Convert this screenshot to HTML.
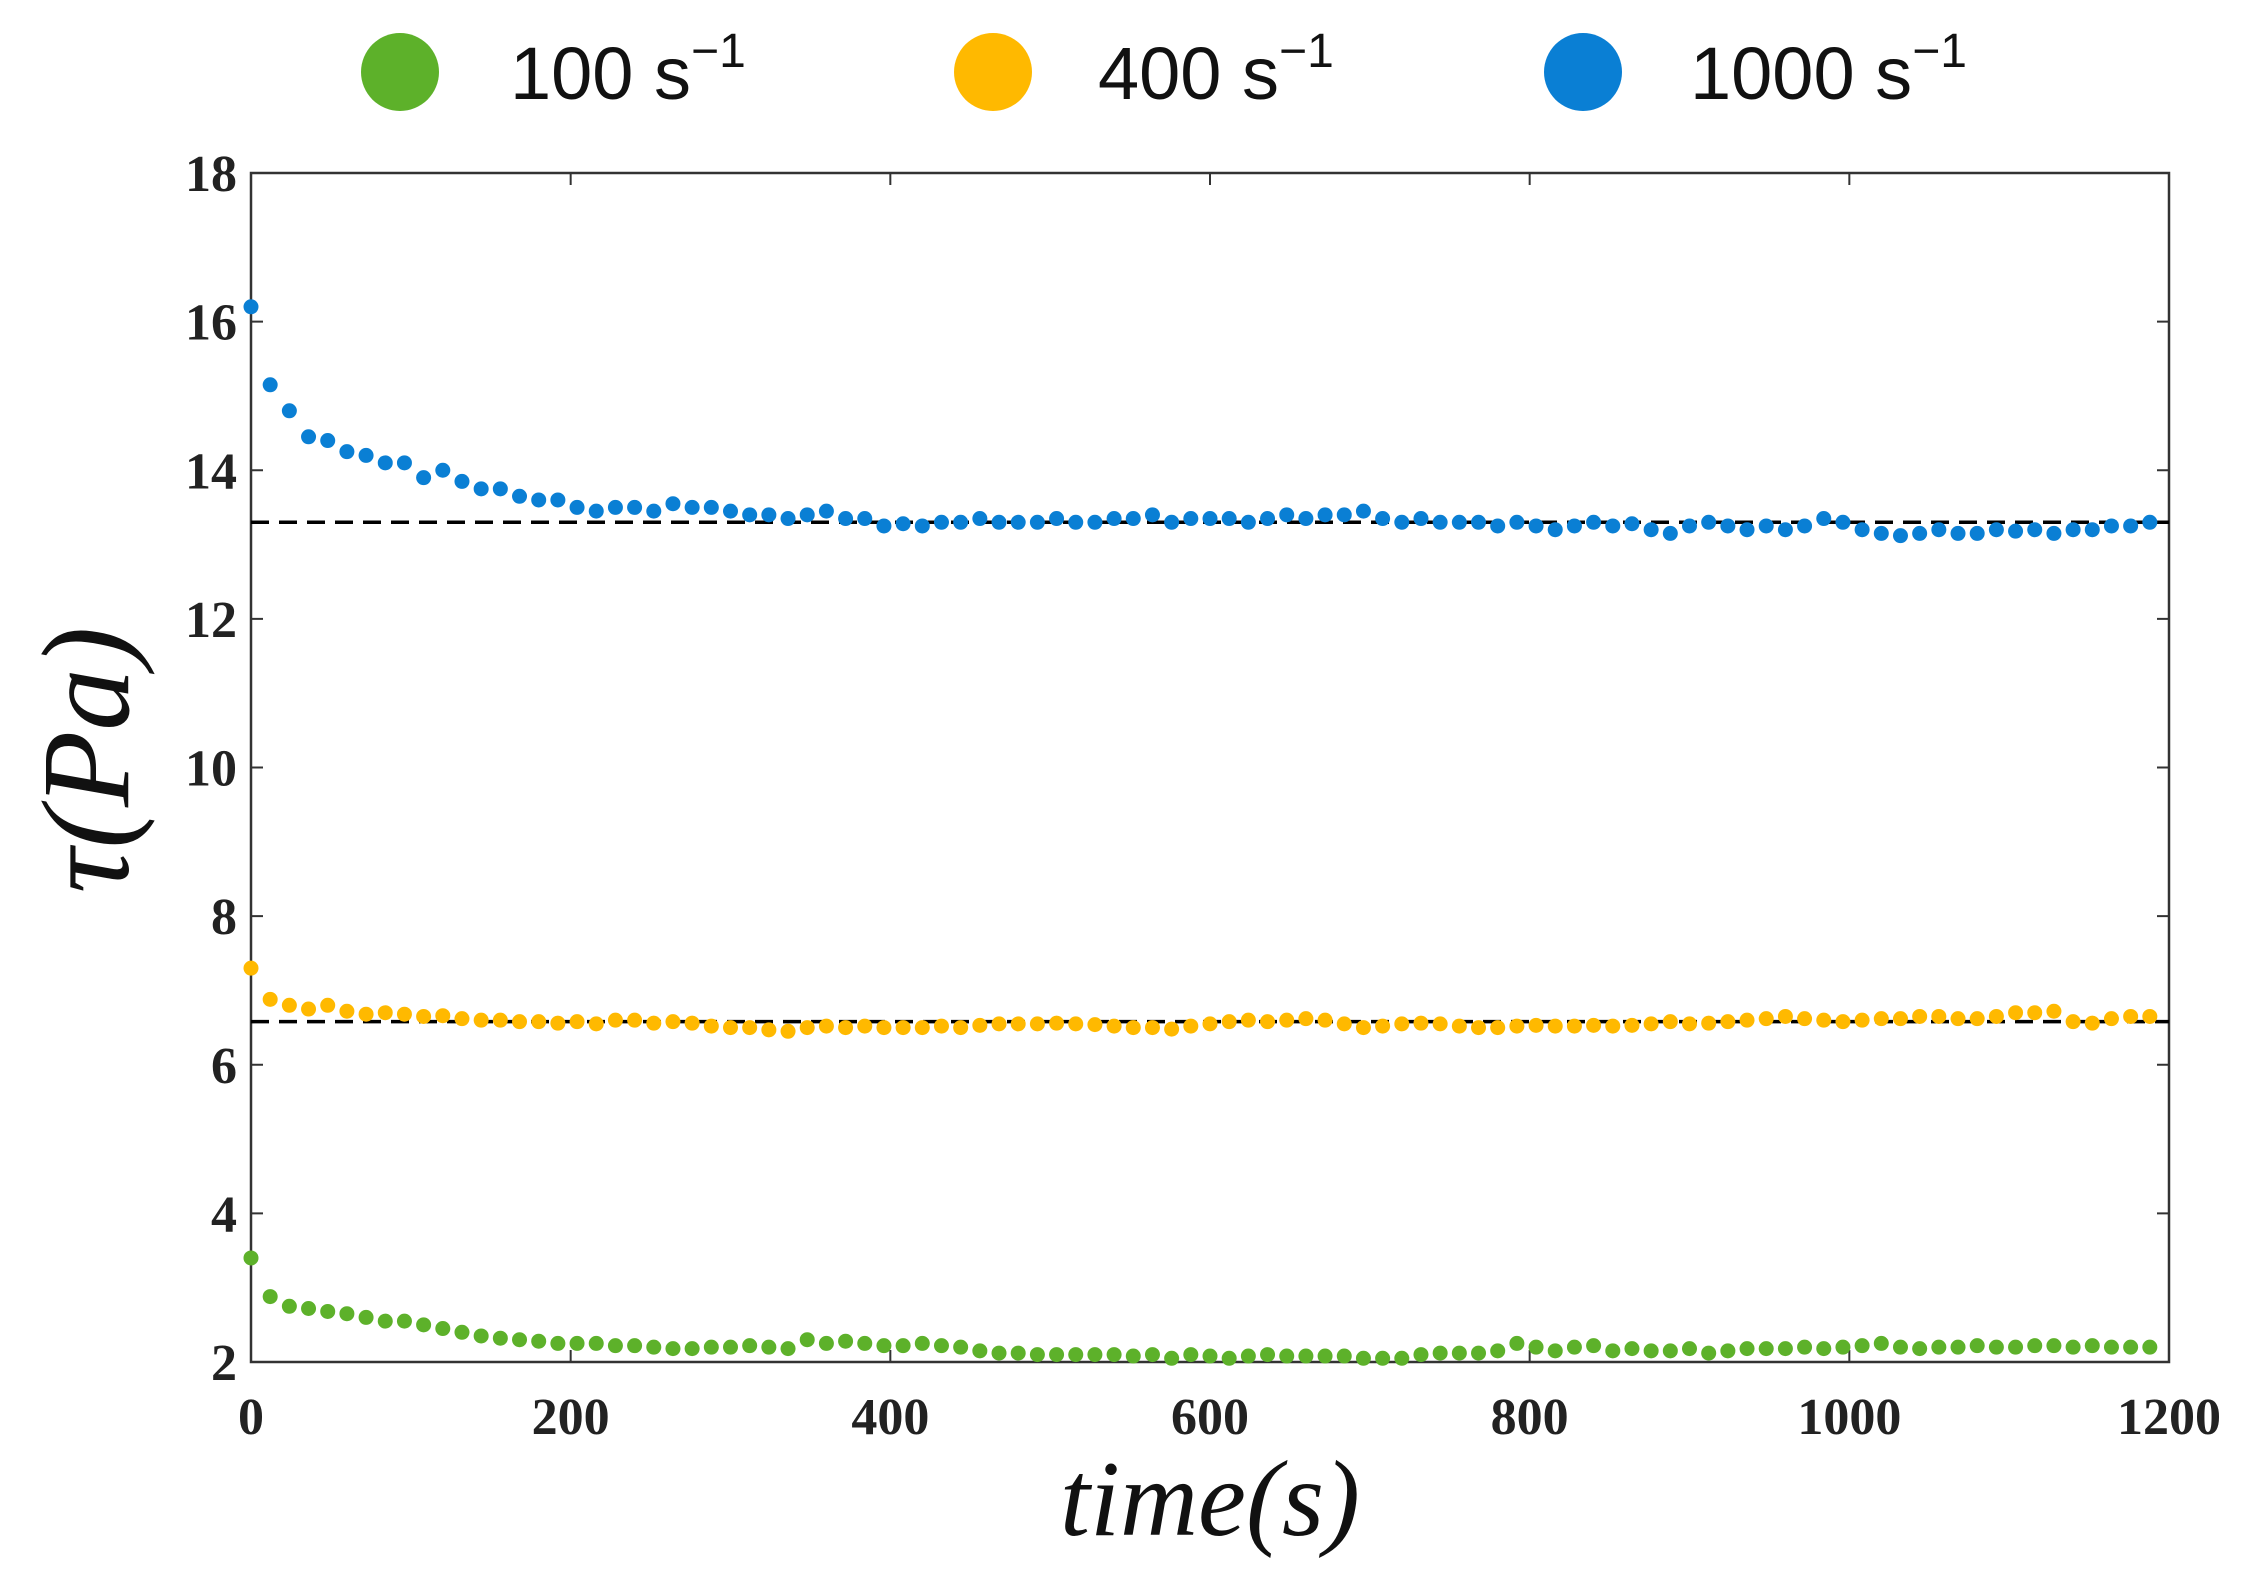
<!DOCTYPE html>
<html><head><meta charset="utf-8"><style>
html,body{margin:0;padding:0;background:#fff;}
svg{display:block;}
</style></head><body>
<svg id="chart" width="2256" height="1584" xmlns="http://www.w3.org/2000/svg">
<g>
  <circle cx="400" cy="72" r="39" fill="#5db12a"/>
  <text x="510" y="99" font-family="Liberation Sans, sans-serif" font-size="74" fill="#111">100 s<tspan font-size="48" dy="-32">−1</tspan></text>
  <circle cx="993" cy="72" r="39" fill="#ffb900"/>
  <text x="1098" y="99" font-family="Liberation Sans, sans-serif" font-size="74" fill="#111">400 s<tspan font-size="48" dy="-32">−1</tspan></text>
  <circle cx="1583" cy="72" r="39" fill="#0a7fd4"/>
  <text x="1690" y="99" font-family="Liberation Sans, sans-serif" font-size="74" fill="#111">1000 s<tspan font-size="48" dy="-32">−1</tspan></text>
</g>
<g id="axes"></g>
<g id="marks"></g>
<text x="1210" y="1535" text-anchor="middle" font-family="Liberation Serif, serif" font-style="italic" font-size="108" fill="#111">time(s)</text>
<text transform="translate(128,760) rotate(-90)" text-anchor="middle" font-family="Liberation Serif, serif" font-style="italic" font-size="125" fill="#111">τ(Pa)</text>
</svg>
<script>
const xTicks=[0,200,400,600,800,1000,1200];
const yTicks=[2,4,6,8,10,12,14,16,18];
const times=[];for(let i=0;i<100;i++)times.push(i*12);
const blue=[16.2,15.15,14.8,14.45,14.4,14.25,14.2,14.1,14.1,13.9,14.0,13.85,13.75,13.75,13.65,13.6,13.6,13.5,13.45,13.5,13.5,13.45,13.55,13.5,13.5,13.45,13.4,13.4,13.35,13.4,13.45,13.35,13.35,13.25,13.28,13.25,13.3,13.3,13.35,13.3,13.3,13.3,13.35,13.3,13.3,13.35,13.35,13.4,13.3,13.35,13.35,13.35,13.3,13.35,13.4,13.35,13.4,13.4,13.45,13.35,13.3,13.35,13.3,13.3,13.3,13.25,13.3,13.25,13.2,13.25,13.3,13.25,13.28,13.2,13.15,13.25,13.3,13.25,13.2,13.25,13.2,13.25,13.35,13.3,13.2,13.15,13.12,13.15,13.2,13.15,13.15,13.2,13.18,13.2,13.15,13.2,13.2,13.25,13.25,13.3];
const orange=[7.3,6.88,6.8,6.75,6.8,6.72,6.68,6.7,6.68,6.65,6.66,6.62,6.6,6.6,6.58,6.58,6.56,6.58,6.55,6.6,6.6,6.56,6.58,6.56,6.52,6.5,6.5,6.47,6.45,6.5,6.52,6.5,6.52,6.5,6.5,6.5,6.52,6.5,6.53,6.55,6.55,6.55,6.56,6.55,6.54,6.52,6.5,6.5,6.48,6.52,6.55,6.58,6.6,6.58,6.6,6.62,6.6,6.55,6.5,6.52,6.55,6.56,6.55,6.52,6.5,6.5,6.52,6.53,6.52,6.52,6.53,6.52,6.53,6.55,6.58,6.55,6.56,6.58,6.6,6.62,6.65,6.62,6.6,6.58,6.6,6.62,6.62,6.65,6.65,6.62,6.62,6.65,6.7,6.7,6.72,6.58,6.56,6.62,6.65,6.65];
const green=[3.4,2.88,2.75,2.72,2.68,2.65,2.6,2.55,2.55,2.5,2.45,2.4,2.35,2.32,2.3,2.28,2.25,2.25,2.25,2.22,2.22,2.2,2.18,2.18,2.2,2.2,2.22,2.2,2.18,2.3,2.25,2.28,2.25,2.22,2.22,2.25,2.22,2.2,2.15,2.12,2.12,2.1,2.1,2.1,2.1,2.1,2.08,2.1,2.05,2.1,2.08,2.05,2.08,2.1,2.08,2.08,2.08,2.08,2.05,2.05,2.05,2.1,2.12,2.12,2.12,2.15,2.25,2.2,2.15,2.2,2.22,2.15,2.18,2.15,2.15,2.18,2.12,2.15,2.18,2.18,2.18,2.2,2.18,2.2,2.22,2.25,2.2,2.18,2.2,2.2,2.22,2.2,2.2,2.22,2.22,2.2,2.22,2.2,2.2,2.2];
const meanLines=[13.3,6.58];
const L=251,R=2169,T=173,B=1362;
const xs=v=>L+(v-0)/(1200-0)*(R-L);
const ys=v=>B-(v-2)/(18-2)*(B-T);
const NS='http://www.w3.org/2000/svg';
function mk(tag,attrs,parent){const e=document.createElementNS(NS,tag);for(const k in attrs)e.setAttribute(k,attrs[k]);parent.appendChild(e);return e;}
const ax=document.getElementById('axes'),mg=document.getElementById('marks');
const frame=mk('rect',{x:L,y:T,width:R-L,height:B-T,fill:'none',stroke:'#333','stroke-width':2.5},ax);


xTicks.forEach(t=>{
  const x=xs(t);
  const a=mk('line',{x1:x,x2:x,y1:B,y2:B-12,stroke:'#333','stroke-width':2},ax);
  
  
  const b=mk('line',{x1:x,x2:x,y1:T,y2:T+12,stroke:'#333','stroke-width':2},ax);
  
  
  const tx=mk('text',{x:x,y:B+72,'text-anchor':'middle','font-family':'Liberation Serif, serif','font-weight':'bold','font-size':52,fill:'#222'},ax);
  tx.textContent=t;
  
  
});
yTicks.forEach(t=>{
  const y=ys(t);
  const a=mk('line',{x1:L,x2:L+12,y1:y,y2:y,stroke:'#333','stroke-width':2},ax);
  
  
  const b=mk('line',{x1:R,x2:R-12,y1:y,y2:y,stroke:'#333','stroke-width':2},ax);
  
  
  const tx=mk('text',{x:L-14,y:y+18,'text-anchor':'end','font-family':'Liberation Serif, serif','font-weight':'bold','font-size':52,fill:'#222'},ax);
  tx.textContent=t;
  
  
});
meanLines.forEach(v=>{
  const l=mk('line',{x1:L,x2:R,y1:ys(v),y2:ys(v),stroke:'#000','stroke-width':3.5,'stroke-dasharray':'18 10'},mg);
  
  
});
[[blue,'#0a7fd4','point-1000'],[orange,'#ffb900','point-400'],[green,'#5db12a','point-100']].forEach(([arr,col,name])=>{
  arr.forEach((v,i)=>{
    const c=mk('circle',{cx:xs(times[i]),cy:ys(v),r:7.5,fill:col},mg);
    
    
  });
});
</script>
</body></html>
